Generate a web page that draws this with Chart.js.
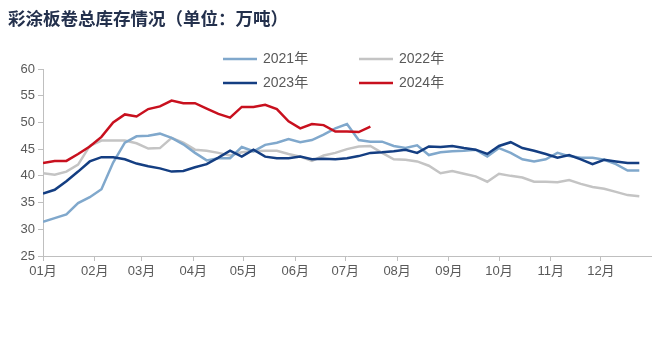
<!DOCTYPE html>
<html>
<head>
<meta charset="utf-8">
<script src="https://cdn.jsdelivr.net/npm/chart.js@4/dist/chart.umd.min.js"></script>
<style>
  html, body { margin: 0; padding: 0; background: #fff; }
</style>
</head>
<body>
<canvas id="chartContainer" width="660" height="337"></canvas>
<script>
"use strict";

// 1: data (weekly total stock, 10k tonnes)
const chartTitle = '彩涂板卷总库存情况（单位：万吨）';
const monthLabels = ['01月', '02月', '03月', '04月', '05月', '06月', '07月', '08月', '09月', '10月', '11月', '12月'];
const monthStartDays = [0, 31, 59, 90, 120, 151, 181, 212, 243, 273, 304, 334];
const seriesNames = ['2021年', '2022年', '2023年', '2024年'];

const stock2021 = [31.4, 32.1, 32.8, 34.9, 36.0, 37.5, 42.5, 46.2, 47.4, 47.5, 47.9, 47.1, 45.9,
  44.3, 42.9, 43.3, 43.3, 45.4, 44.6, 45.8, 46.2, 46.9, 46.3, 46.7, 47.7, 48.9, 49.7,
  46.7, 46.4, 46.4, 45.6, 45.2, 45.7, 43.9, 44.4, 44.6, 44.7, 44.9, 43.6, 45.2, 44.3,
  43.1, 42.7, 43.1, 44.3, 43.7, 43.4, 43.4, 43.0, 42.2, 41.0, 41.0];
const stock2022 = [40.5, 40.2, 40.8, 42.1, 45.6, 46.6, 46.6, 46.6, 46.1, 45.1, 45.2, 47.1, 46.2,
  44.9, 44.7, 44.3, 43.8, 44.4, 44.6, 44.7, 44.7, 44.1, 43.6, 42.8, 43.8, 44.3, 45.0,
  45.5, 45.6, 44.3, 43.1, 43.0, 42.7, 41.9, 40.5, 40.9, 40.4, 39.9, 38.9, 40.4, 40.0,
  39.7, 38.9, 38.9, 38.8, 39.2, 38.5, 37.9, 37.6, 37.0, 36.4, 36.2];
const stock2023 = [36.7, 37.4, 39.0, 40.8, 42.7, 43.5, 43.5, 43.1, 42.3, 41.8, 41.4, 40.8, 40.9,
  41.6, 42.2, 43.4, 44.7, 43.6, 44.9, 43.6, 43.3, 43.3, 43.6, 43.1, 43.2, 43.1, 43.3,
  43.7, 44.3, 44.4, 44.6, 44.9, 44.3, 45.5, 45.4, 45.6, 45.2, 44.9, 44.1, 45.6, 46.3,
  45.2, 44.7, 44.1, 43.4, 43.9, 43.1, 42.2, 43.0, 42.7, 42.4, 42.4];
const stock2024 = [42.4, 42.8, 42.8, 44.1, 45.5, 47.3, 50.0, 51.5, 51.1, 52.5, 53.0, 54.1, 53.6,
  53.6, 52.6, 51.6, 50.9, 52.9, 52.9, 53.3, 52.5, 50.2, 48.9, 49.7, 49.5, 48.3, 48.3,
  48.2, 49.2];

const seriesColors = ['#80a8cc', '#c4c4c4', '#143e82', '#c8101e'];

// one point per week, placed by day of year
const weekDays = stock2021.map((v, i) => i * 7);

const tickFont = { family: '"Liberation Sans", "Noto Sans CJK SC", sans-serif', size: 13 };

// 2: legend in two columns plus the title, drawn on the canvas
const yearLegend = {
  id: 'yearLegend',
  afterDraw(chart) {
    const ctx = chart.ctx;
    ctx.save();
    ctx.textBaseline = 'middle';
    ctx.font = '14px "Liberation Sans", "Noto Sans CJK SC", sans-serif';
    seriesNames.forEach((name, i) => {
      const x = 223 + (i % 2) * 136;
      const y = 59 + Math.floor(i / 2) * 24;
      ctx.strokeStyle = seriesColors[i];
      ctx.lineWidth = 2.5;
      ctx.beginPath();
      ctx.moveTo(x, y);
      ctx.lineTo(x + 34, y);
      ctx.stroke();
      ctx.fillStyle = '#595959';
      ctx.fillText(name, x + 40, y);
    });
    ctx.font = 'bold 17.5px "Noto Sans CJK SC", sans-serif';
    ctx.fillStyle = '#24314d';
    ctx.fillText(chartTitle, 8, 18);
    ctx.restore();
  }
};

// 3: create the chart
function lineSet(label, data, color, order) {
  return {
    label: label,
    data: data,
    borderColor: color,
    backgroundColor: color,
    borderWidth: 2.5,
    pointRadius: 0,
    tension: 0,
    order: order
  };
}

let chart = new Chart(document.getElementById('chartContainer'), {
  type: 'line',
  data: {
    labels: weekDays,
    datasets: [
      lineSet(seriesNames[0], stock2021, seriesColors[0], 2),
      lineSet(seriesNames[1], stock2022, seriesColors[1], 3),
      lineSet(seriesNames[2], stock2023, seriesColors[2], 1),
      lineSet(seriesNames[3], stock2024, seriesColors[3], 0)
    ]
  },
  options: {
    responsive: false,
    animation: false,
    devicePixelRatio: 1,
    layout: { padding: { top: 69, right: 9, bottom: 0, left: 0 } },
    plugins: {
      legend: { display: false },
      tooltip: { enabled: false }
    },
    scales: {
      x: {
        type: 'linear',
        min: 0,
        max: 364,
        afterBuildTicks: axis => { axis.ticks = monthStartDays.map(v => ({ value: v })); },
        afterFit: axis => { axis.height = 81; },
        grid: { drawOnChartArea: false, drawTicks: true, tickLength: 5, color: '#bfbfbf' },
        border: { color: '#bfbfbf', width: 1 },
        ticks: {
          autoSkip: false,
          maxRotation: 0,
          padding: 3,
          color: '#595959',
          font: tickFont,
          callback: (value, index) => monthLabels[index]
        }
      },
      y: {
        min: 25,
        max: 60,
        afterFit: axis => { axis.width = 43; },
        grid: { drawOnChartArea: false, drawTicks: true, tickLength: 5, color: '#bfbfbf' },
        border: { color: '#bfbfbf', width: 1 },
        ticks: { stepSize: 5, padding: 3, color: '#595959', font: tickFont }
      }
    }
  },
  plugins: [yearLegend]
});
</script>
</body>
</html>
